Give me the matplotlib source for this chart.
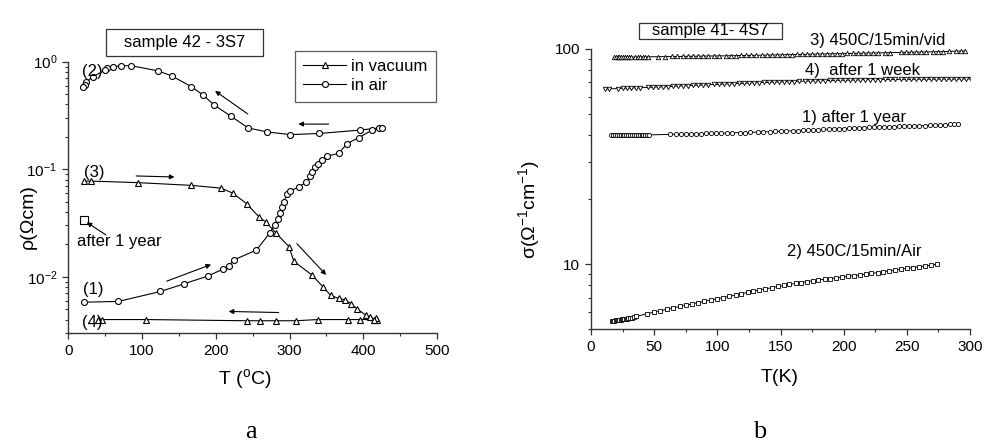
import matplotlib.pyplot as plt
from matplotlib.lines import Line2D
from matplotlib.patches import Rectangle
from matplotlib.ticker import LogLocator, NullFormatter, FuncFormatter, MultipleLocator

plt.rcParams['font.family'] = ['Liberation Sans', 'DejaVu Sans']
plt.rcParams['mathtext.fontset'] = 'custom'
plt.rcParams['mathtext.rm'] = 'Liberation Sans'
plt.rcParams['axes.unicode_minus'] = False

# ---- panel a: resistivity vs T (C) ----
air_T = [21, 68, 125, 157, 190, 210, 218, 225, 255, 273, 280, 284, 287, 290, 292, 297,
         301, 313, 323, 328, 331, 335, 339, 344, 351, 367, 378, 394, 412, 421, 426,
         395, 340, 301, 270, 244, 220, 198, 183, 167, 140, 121, 85, 72, 61, 53, 50,
         33, 24, 22, 20]
air_rho = [0.0058, 0.0059, 0.0073, 0.0086, 0.0102, 0.0118, 0.0127, 0.0144, 0.0177, 0.0254,
           0.0305, 0.0346, 0.0395, 0.0447, 0.0500, 0.0590, 0.0625, 0.069, 0.076, 0.086,
           0.094, 0.104, 0.113, 0.121, 0.132, 0.141, 0.173, 0.197, 0.231, 0.242, 0.244,
           0.231, 0.215, 0.210, 0.222, 0.242, 0.313, 0.394, 0.489, 0.585, 0.740, 0.824,
           0.918, 0.918, 0.898, 0.867, 0.837, 0.724, 0.643, 0.610, 0.577]

vac_T = [21, 30.5, 95, 167, 207, 223, 242, 259, 268, 282, 299, 306, 331, 345, 356, 366.5,
         375.5, 383.5, 392, 403.5, 409, 416, 419,
         417.5, 414, 395, 379, 338, 308.5, 282, 260, 242, 106, 46, 40]
vac_rho = [0.0776, 0.0776, 0.075, 0.0708, 0.0667, 0.060, 0.0477, 0.0358, 0.0322, 0.0254,
           0.0191, 0.0139, 0.0103, 0.0081, 0.0067, 0.0063, 0.0061, 0.0056, 0.0050, 0.0044,
           0.0042, 0.0040, 0.0040,
           0.0041, 0.0040, 0.0040, 0.0040, 0.0040, 0.0039, 0.0039, 0.0039, 0.0039, 0.0040,
           0.0040, 0.0040]

year_a_T = [20.8]
year_a_rho = [0.0334]

# ---- panel b: conductivity vs T (K) ----
vid_T = [18, 19.5, 21, 22.5, 24, 25.5, 27, 28.5, 30, 31.5, 35, 37, 39, 41, 43, 45,
         53, 58.5, 64, 68, 73, 77, 81, 85, 89, 93,
         97, 101, 107, 111, 115, 119, 123, 127, 131, 135,
         139, 143, 147, 151, 155, 159, 163, 167, 171, 175,
         179, 183, 187, 191, 195, 199, 203, 207, 211, 215,
         219, 223, 227, 233, 237, 245, 249, 253, 257, 261,
         265, 271, 275, 279, 283, 289, 293, 296]
vid_S = [91.4, 91.4, 91.5, 91.5, 91.5, 91.6, 91.6, 91.6, 91.7, 91.7, 91.8, 91.8, 91.9, 91.9, 92.0, 92.0,
         92.1, 92.2, 92.3, 92.3, 92.4, 92.5, 92.5, 92.6, 92.7, 92.8,
         92.8, 92.9, 93.0, 93.1, 93.2, 93.3, 93.3, 93.4, 93.5, 93.6,
         93.7, 93.8, 93.9, 94.0, 94.1, 94.2, 94.3, 94.4, 94.5, 94.6,
         94.7, 94.8, 94.9, 95.0, 95.1, 95.2, 95.3, 95.4, 95.5, 95.6,
         95.7, 95.8, 95.9, 96.1, 96.2, 96.4, 96.5, 96.6, 96.7, 96.8,
         96.9, 97.1, 97.2, 97.3, 97.5, 97.7, 97.8, 97.9]

week_T = [11, 14.5, 21.5, 25, 28.5, 32, 35.5, 39, 45.5, 49,
          53, 57, 61, 65, 69, 73, 77, 81, 85, 89,
          93, 97, 101, 105, 109, 113, 117, 121, 125, 129,
          133, 137, 141, 145, 149, 153, 157, 161, 165, 169,
          173, 177, 181, 185, 189, 193, 197, 201, 205, 209,
          213, 217, 221, 225, 229, 233, 237, 241, 245, 249,
          253, 257, 261, 265, 269, 273, 277, 281, 285, 289,
          293, 297, 301]
week_S = [65.2, 65.3, 65.5, 65.7, 65.8, 65.9, 66.0, 66.1, 66.3, 66.5,
          66.6, 66.8, 66.9, 67.1, 67.3, 67.4, 67.6, 67.7, 67.9, 68.1,
          68.2, 68.4, 68.5, 68.7, 68.9, 69.0, 69.2, 69.3, 69.5, 69.7,
          69.8, 69.9, 70.0, 70.2, 70.3, 70.4, 70.5, 70.6, 70.8, 70.9,
          71.0, 71.1, 71.2, 71.3, 71.4, 71.5, 71.6, 71.6, 71.7, 71.8,
          71.9, 72.0, 72.0, 72.1, 72.1, 72.2, 72.2, 72.2, 72.3, 72.3,
          72.3, 72.4, 72.4, 72.4, 72.4, 72.5, 72.5, 72.5, 72.5, 72.5,
          72.6, 72.6, 72.6]

year_T = [16, 17.5, 19, 20.5, 22, 23.5, 25, 26.5, 28, 29.5, 31, 32.5, 34, 35.5, 37, 38.5,
          40, 41.5, 43, 44.5, 46,
          62.5, 67, 71, 75, 79, 83, 87, 91, 95, 99,
          103, 108, 112, 118, 122, 126, 132, 136, 142, 146,
          150, 154, 160, 164, 168, 172, 176, 180, 184, 188,
          192, 196, 200, 204, 208, 212, 216, 220, 224, 228,
          232, 236, 240, 244, 248, 252, 256, 260, 264, 268,
          272, 276, 280, 284, 287, 290.5]
year_S = [39.7, 39.7, 39.7, 39.7, 39.7, 39.7, 39.7, 39.8, 39.8, 39.8, 39.8, 39.8, 39.8, 39.8,
          39.9, 39.9, 39.9, 39.9, 39.9, 39.9, 39.9,
          40.1, 40.2, 40.2, 40.3, 40.3, 40.4, 40.4, 40.5, 40.5, 40.6,
          40.6, 40.7, 40.8, 40.9, 40.9, 41.0, 41.1, 41.2, 41.3, 41.4,
          41.5, 41.6, 41.7, 41.8, 41.9, 42.0, 42.1, 42.2, 42.3, 42.4,
          42.5, 42.6, 42.7, 42.8, 42.9, 43.0, 43.1, 43.2, 43.3, 43.3,
          43.4, 43.5, 43.6, 43.7, 43.8, 43.9, 44.0, 44.0, 44.1, 44.2,
          44.3, 44.4, 44.5, 44.6, 44.6, 44.7]

airb_T = [16.5, 17.5, 18.5, 19.5, 20.5, 21.5, 22.5, 23.5, 24.5, 25.5, 26.5, 27.5, 28.5,
          29.5, 31, 32.5, 34, 36,
          44.5, 50, 55, 60, 65, 70.5, 75, 80, 85, 89.5,
          95, 100, 104.5, 109.5, 114.5, 119, 124, 128.5, 133, 138,
          143, 148, 152.5, 157, 162, 166.5, 171, 175.5, 180, 185,
          189.5, 194, 199, 203.5, 208, 213, 217.5, 222, 227, 231.5,
          236, 241, 245.5, 250, 255, 259.5, 264, 269, 273.5]
airb_S = [5.45, 5.46, 5.47, 5.48, 5.49, 5.50, 5.51, 5.52, 5.54, 5.55, 5.56, 5.57, 5.59,
          5.60, 5.62, 5.65, 5.67, 5.72,
          5.89, 5.99, 6.08, 6.17, 6.27, 6.37, 6.45, 6.54, 6.63, 6.72,
          6.82, 6.91, 6.99, 7.09, 7.19, 7.28, 7.40, 7.49, 7.59, 7.67,
          7.78, 7.88, 7.97, 8.05, 8.14, 8.22, 8.30, 8.38, 8.45, 8.52,
          8.58, 8.64, 8.71, 8.78, 8.85, 8.92, 8.99, 9.06, 9.15, 9.23,
          9.31, 9.40, 9.48, 9.56, 9.64, 9.72, 9.81, 9.90, 10.0]

W, H = 984, 445
fig = plt.figure(figsize=(W / 100, H / 100), dpi=100)


def px(x, y):
    # pixel position -> figure fraction
    return x / W, 1 - y / H


def style_axes(ax):
    for s in ['top', 'right']:
        ax.spines[s].set_visible(False)
    for s in ['left', 'bottom']:
        ax.spines[s].set_linewidth(1.0)
        ax.spines[s].set_color('#333333')
    ax.tick_params(which='major', direction='out', length=4.5, width=0.9, labelsize=11, colors='#333333',
                   labelcolor='black')
    ax.tick_params(which='minor', direction='out', length=2.2, width=0.8, colors='#333333')


# ---------- panel a ----------
ax1 = fig.add_axes([68.3 / W, 1 - 333 / H, (437 - 68.3) / W, (333 - 61.7) / H])
mk = dict(color='black', lw=0.8, mfc='white', mec='black', mew=0.8)
ax1.plot(air_T, air_rho, marker='o', ms=4.3, **mk)
ax1.plot(vac_T, vac_rho, marker='^', ms=4.0, **mk)
ax1.plot(year_a_T, year_a_rho, ls='none', marker='s', ms=5.5, mfc='white', mec='black', mew=0.8)
ax1.set_yscale('log')
ax1.set_xlim(0, 500)
ax1.set_ylim(3e-3, 1)
ax1.xaxis.set_major_locator(MultipleLocator(100))
ax1.xaxis.set_minor_locator(MultipleLocator(50))
ax1.yaxis.set_minor_locator(LogLocator(base=10, subs=range(2, 10)))
ax1.yaxis.set_minor_formatter(NullFormatter())
style_axes(ax1)

arr = dict(arrowstyle='-|>', color='black', lw=0.8, mutation_scale=7, shrinkA=0, shrinkB=0)
for tail, head in [((243.5, 0.326), (199, 0.535)),
                   ((353, 0.263), (312, 0.263)),
                   ((92, 0.0866), (144, 0.0847)),
                   ((133.5, 0.0091), (193.6, 0.0130)),
                   ((310, 0.0203), (349.7, 0.0104)),
                   ((285.3, 0.00465), (217.5, 0.00476)),
                   ((51, 0.0245), (25, 0.0321))]:
    ax1.annotate('', xy=head, xytext=tail, arrowprops=arr)

for txt, x, y in [('(2)', 81.7, 71.7), ('(3)', 84.3, 172), ('(1)', 83.3, 289.3),
                  ('(4)', 81.7, 322.3), ('after 1 year', 76.7, 241.7)]:
    fig.text(*px(x, y), txt, fontsize=12, ha='left', va='center')

handles = [Line2D([], [], marker='^', ms=4.0, **mk), Line2D([], [], marker='o', ms=4.3, **mk)]
leg = ax1.legend(handles, ['in vacuum', 'in air'], loc='upper right', bbox_to_anchor=(0.997, 1.0405),
                 borderaxespad=0, fontsize=12, handlelength=2.6, handletextpad=0.3, borderpad=0.5,
                 labelspacing=0.25, frameon=True, fancybox=False, numpoints=1)
leg.get_frame().set_edgecolor('#333333')
leg.get_frame().set_linewidth(0.9)

fig.add_artist(Rectangle(px(106, 56), 156.7 / W, 26.7 / H, transform=fig.transFigure,
                         fill=False, ec='#333333', lw=0.9))
fig.text(*px(184.3, 43), 'sample 42 - 3S7', fontsize=12, ha='center', va='center')

fig.text(*px(28.5, 217), 'ρ(Ωcm)', fontsize=14, rotation=90, ha='center', va='center')
fig.text(*px(245, 380), 'T ($^{\\mathregular{o}}$C)', fontsize=14, ha='center', va='center')
fig.text(*px(251, 432), 'a', fontsize=19, family='Liberation Serif', ha='center', va='center')

# ---------- panel b ----------
ax2 = fig.add_axes([591 / W, 1 - 329 / H, 379 / W, 280 / H])
mk2 = dict(color='black', lw=0.7, mfc='white', mec='black', mew=0.6)
ax2.plot(vid_T, vid_S, marker='^', ms=3.2, **mk2)
ax2.plot(week_T, week_S, marker='v', ms=3.2, **mk2)
ax2.plot(year_T, year_S, marker='o', ms=3.0, **mk2)
ax2.plot(airb_T, airb_S, marker='s', ms=2.8, **mk2)
ax2.set_yscale('log')
ax2.set_xlim(0, 300)
ax2.set_ylim(5, 100)
ax2.xaxis.set_major_locator(MultipleLocator(50))
ax2.xaxis.set_minor_locator(MultipleLocator(25))
ax2.yaxis.set_major_locator(LogLocator(base=10))
ax2.yaxis.set_major_formatter(FuncFormatter(lambda v, p: f'{v:g}'))
ax2.yaxis.set_minor_locator(LogLocator(base=10, subs=range(2, 10)))
ax2.yaxis.set_minor_formatter(NullFormatter())
style_axes(ax2)

for txt, x, y in [('3) 450C/15min/vid', 810, 40), ('4)  after 1 week', 805, 70.7),
                  ('1) after 1 year', 801.7, 117.3), ('2) 450C/15min/Air', 786.7, 251.7)]:
    fig.text(*px(x, y), txt, fontsize=12, ha='left', va='center')

fig.add_artist(Rectangle(px(639.3, 39.3), 142.4 / W, 16.6 / H, transform=fig.transFigure,
                         fill=False, ec='#333333', lw=0.9))
fig.text(*px(710.5, 31), 'sample 41- 4S7', fontsize=12, ha='center', va='center')

fig.text(*px(530, 209), 'σ(Ω$^{\\mathregular{-1}}$cm$^{\\mathregular{-1}}$)', fontsize=14,
         rotation=90, ha='center', va='center')
fig.text(*px(780, 378), 'T(K)', fontsize=14, ha='center', va='center')
fig.text(*px(760, 432), 'b', fontsize=19, family='Liberation Serif', ha='center', va='center')

fig.savefig('out.png', dpi=100)
